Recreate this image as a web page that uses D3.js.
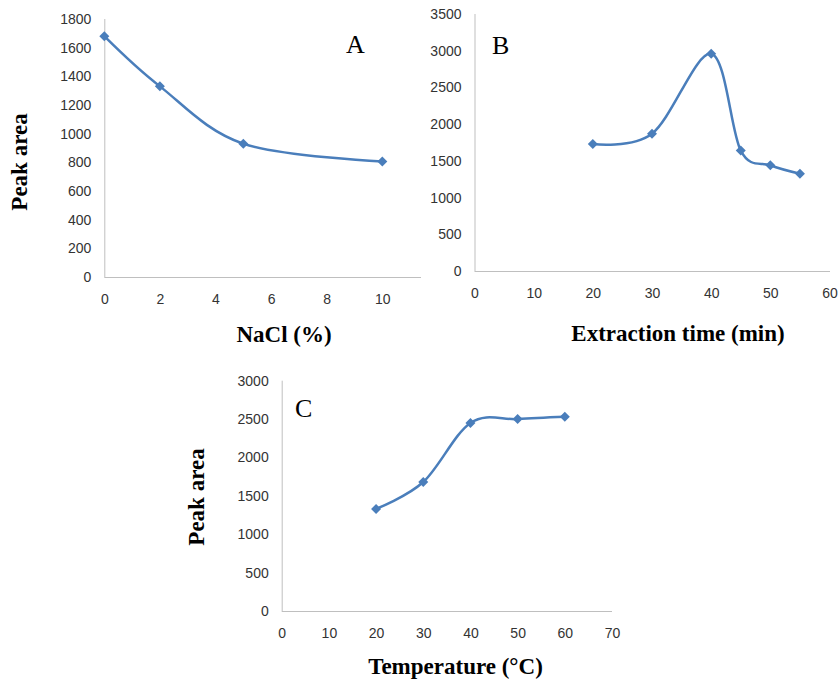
<!DOCTYPE html>
<html>
<head>
<meta charset="utf-8">
<script src="https://cdn.jsdelivr.net/npm/d3@7"></script>
<style>
  body { margin: 0; background: #fff; }
  .tick text { font-family: "Liberation Sans", Arial, sans-serif; font-size: 14px; fill: #333; }
  .ttl { font-family: "Liberation Serif", "Times New Roman", serif; fill: #000; }
</style>
</head>
<body>
<div id="chart"></div>
<script>
'use strict';

// panel A - NaCl
const naclX = [0, 2, 5, 10];
const naclY = [1680, 1330, 930, 805];
const naclXTicks = [0, 2, 4, 6, 8, 10];
const naclYTicks = [0, 200, 400, 600, 800, 1000, 1200, 1400, 1600, 1800];

// panel B - extraction time
const timeX = [20, 30, 40, 45, 50, 55];
const timeY = [1730, 1870, 2960, 1640, 1440, 1325];
const timeXTicks = [0, 10, 20, 30, 40, 50, 60];
const timeYTicks = [0, 500, 1000, 1500, 2000, 2500, 3000, 3500];

// panel C - temperature
const tempX = [20, 30, 40, 50, 60];
const tempY = [1330, 1680, 2450, 2500, 2530];
const tempXTicks = [0, 10, 20, 30, 40, 50, 60, 70];
const tempYTicks = [0, 500, 1000, 1500, 2000, 2500, 3000];

const W = 840, H = 683;
const lineColor = "#4a7ebb";
const axisColor = "#bfbfbf";

const svg = d3.select("#chart").append("svg")
  .attr("width", W).attr("height", H);

function panel(p){
  let x = d3.scaleLinear().domain(p.xDomain).range(p.xRange);
  let y = d3.scaleLinear().domain(p.yDomain).range(p.yRange);
  let g = svg.append("g");

  //axes without tick marks
  let xAxis = d3.axisBottom(x).tickValues(p.xTicks).tickFormat(d3.format("d")).tickSize(0).tickPadding(17);
  let yAxis = d3.axisLeft(y).tickValues(p.yTicks).tickFormat(d3.format("d")).tickSize(0).tickPadding(13);

  let gx = g.append("g").attr("transform", `translate(0,${p.yRange[0]})`).call(xAxis);
  let gy = g.append("g").attr("transform", `translate(${p.xRange[0]},0)`).call(yAxis);
  gx.select(".domain").remove();
  gy.select(".domain").remove();

  g.append("line")
    .attr("x1", p.xRange[0]).attr("x2", p.axisEnd)
    .attr("y1", p.yRange[0] + 0.5).attr("y2", p.yRange[0] + 0.5)
    .attr("stroke", axisColor);
  g.append("line")
    .attr("x1", p.xRange[0] + 0.5).attr("x2", p.xRange[0] + 0.5)
    .attr("y1", p.yRange[0]).attr("y2", p.yRange[1])
    .attr("stroke", axisColor);

  let data = p.xs.map((d, i) => [d, p.ys[i]]);
  let line = d3.line()
    .x(d => x(d[0]))
    .y(d => y(d[1]))
    .curve(d3.curveCatmullRom.alpha(0));

  g.append("path").datum(data)
    .attr("d", line)
    .attr("fill", "none")
    .attr("stroke", lineColor)
    .attr("stroke-width", 2.5)
    .attr("stroke-linejoin", "round");

  g.selectAll(".mk").data(data).enter().append("path")
    .attr("class", "mk")
    .attr("transform", d => `translate(${x(d[0])},${y(d[1])})`)
    .attr("d", "M0,-5L5,0L0,5L-5,0Z")
    .attr("fill", lineColor);

  //panel letter
  g.append("text").attr("class", "ttl")
    .attr("x", p.letter[0]).attr("y", p.letter[1])
    .attr("font-size", 26)
    .text(p.name);

  //axis titles
  g.append("text").attr("class", "ttl")
    .attr("x", p.xTitle[0]).attr("y", p.xTitle[1])
    .attr("text-anchor", "middle")
    .attr("font-size", 23).attr("font-weight", "bold")
    .text(p.xLabel);

  if(p.yTitle){
    g.append("text").attr("class", "ttl")
      .attr("transform", `translate(${p.yTitle[0]},${p.yTitle[1]}) rotate(-90)`)
      .attr("text-anchor", "middle")
      .attr("font-size", 23).attr("font-weight", "bold")
      .text("Peak area");
  }
}

panel({
  name: "A",
  xs: naclX, ys: naclY, xTicks: naclXTicks, yTicks: naclYTicks,
  xDomain: [0, 10], xRange: [104.3, 382.3],
  yDomain: [0, 1800], yRange: [277, 19],
  axisEnd: 421,
  letter: [346, 53],
  xLabel: "NaCl (%)", xTitle: [284, 342],
  yTitle: [27, 162]
});

panel({
  name: "B",
  xs: timeX, ys: timeY, xTicks: timeXTicks, yTicks: timeYTicks,
  xDomain: [0, 60], xRange: [474.5, 829.5],
  yDomain: [0, 3500], yRange: [271, 14],
  axisEnd: 830,
  letter: [492, 54],
  xLabel: "Extraction time (min)", xTitle: [678, 341],
  yTitle: null
});

panel({
  name: "C",
  xs: tempX, ys: tempY, xTicks: tempXTicks, yTicks: tempYTicks,
  xDomain: [0, 70], xRange: [281.7, 612],
  yDomain: [0, 3000], yRange: [611, 380.7],
  axisEnd: 612,
  letter: [295, 417],
  xLabel: "Temperature (°C)", xTitle: [455.5, 674],
  yTitle: [204, 497]
});
</script>
</body>
</html>
